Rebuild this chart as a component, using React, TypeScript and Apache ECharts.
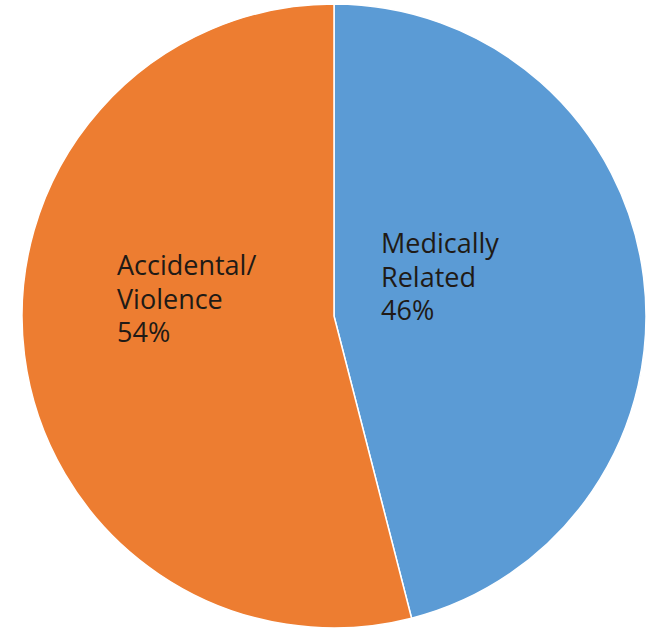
import React, { useEffect, useRef } from "react";
import * as echarts from "echarts";

const categories = ["Medically\nRelated", "Accidental/\nViolence"];
const values = [46, 54];
const colors = ["#5B9BD5", "#ED7D31"];

export default function App() {
  const ref = useRef<HTMLDivElement>(null);
  useEffect(() => {
    if (!ref.current) return;
    const chart = echarts.init(ref.current, null, { renderer: "svg" });
    const labelPos = [
      { x: 381, y: 226 },
      { x: 117, y: 248 },
    ];
    chart.setOption({
      animation: false,
      backgroundColor: "#ffffff",
      series: [
        {
          type: "pie",
          center: [334, 316],
          radius: [0, 312],
          startAngle: 90,
          clockwise: true,
          data: categories.map((c, i) => ({
            name: c,
            value: values[i],
            itemStyle: { color: colors[i] },
          })),
          itemStyle: { borderColor: "#ffffff", borderWidth: 1.5 },
          label: {
            show: true,
            position: "inside",
            formatter: (p: any) => `${p.name}\n${Math.round(p.percent)}%`,
            color: "#201a16",
            fontFamily: "Open Sans",
            fontSize: 27,
            lineHeight: 33.5,
            align: "left",
          },
          labelLayout: (p: any) => ({
            x: labelPos[p.dataIndex].x,
            y: labelPos[p.dataIndex].y,
            align: "left",
            verticalAlign: "top",
          }),
          labelLine: { show: false },
          emphasis: { disabled: true },
        },
      ],
    });
    return () => chart.dispose();
  }, []);
  return (
    <div
      ref={ref}
      style={{ position: "fixed", left: 0, top: 0, width: 646, height: 633 }}
    />
  );
}
